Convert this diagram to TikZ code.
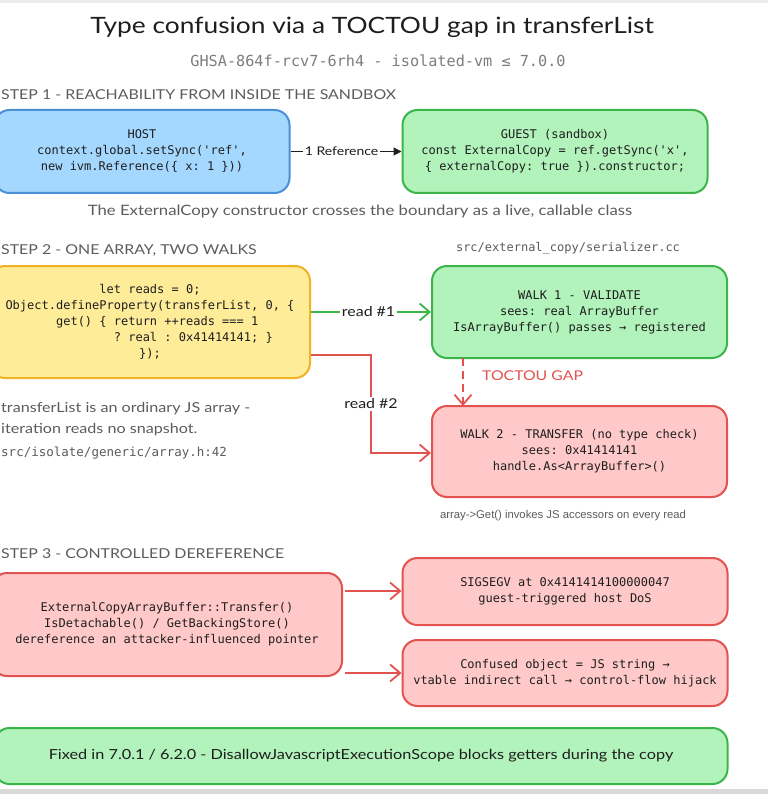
\documentclass[tikz,border=0pt]{standalone}
\usepackage{fontspec}
\setmainfont{Lato}[FakeStretch=1.17]
\setmonofont{DejaVu Sans Mono}
\newfontfamily\plainsans{Liberation Sans}
\usetikzlibrary{arrows.meta}
\definecolor{inkc}{HTML}{1E1E1E}
\definecolor{greyc}{HTML}{5C5C5C}
\definecolor{bluefill}{HTML}{A5D8FF}
\definecolor{bluedraw}{HTML}{4A90D9}
\definecolor{greenfill}{HTML}{B2F2BB}
\definecolor{greendraw}{HTML}{3BB54A}
\definecolor{yellowfill}{HTML}{FFEC99}
\definecolor{yellowdraw}{HTML}{F0B323}
\definecolor{redfill}{HTML}{FFC9C9}
\definecolor{reddraw}{HTML}{E2524F}
\newcommand{\codefont}{\ttfamily\fontsize{12}{16}\selectfont}
\newcommand{\padsp}[1]{\phantom{\ttfamily #1}}
\tikzset{
  boxbase/.style={rounded corners=15pt, line width=2pt, align=center, text=inkc, font=\codefont, inner sep=0pt},
  bluebox/.style={boxbase, fill=bluefill, draw=bluedraw},
  greenbox/.style={boxbase, fill=greenfill, draw=greendraw},
  yellowbox/.style={boxbase, fill=yellowfill, draw=yellowdraw},
  redbox/.style={boxbase, fill=redfill, draw=reddraw},
  steplabel/.style={anchor=west, text=greyc, font=\fontsize{13.6}{16}\selectfont, inner sep=0pt},
  caption/.style={text=greyc, font=\fontsize{14.3}{18}\selectfont, inner sep=0pt},
  monocap/.style={text=greyc, font=\ttfamily\fontsize{12}{15}\selectfont, inner sep=0pt},
  arrlabel/.style={fill=white, text=inkc, font=\fontsize{13.6}{15}\selectfont, inner sep=2pt},
  barb/.style={-{Straight Barb[length=10pt,width=17pt,line width=1.8pt]}, line width=1.8pt},
}
\begin{document}
\begin{tikzpicture}[x=1pt,y=-1pt]
\useasboundingbox (0,0) rectangle (768,794);
\fill[white] (0,0) rectangle (768,794);
\fill[black!8] (0,0) rectangle (768,3);
\fill[black!15] (0,789) rectangle (768,794);

% title
\node[text=inkc, font=\fontsize{22.5}{26}\selectfont, inner sep=0pt] (title) at (372,27) {Type confusion via a TOCTOU gap in transferList};
\node[text=greyc!80, font=\ttfamily\fontsize{15.2}{17}\selectfont, inner sep=0pt] (subtitle) at (378,61) {GHSA-864f-rcv7-6rh4 - isolated-vm ≤ 7.0.0};

% step 1
\node[steplabel] (s1) at (1,95) {STEP 1 - REACHABILITY FROM INSIDE THE SANDBOX};
\node[bluebox, minimum width=295pt, minimum height=83pt] (host) at (142,151.5)
  {HOST\\context.global.setSync('ref',\\new ivm.Reference(\{ x: 1 \}))};
\node[greenbox, minimum width=305pt, minimum height=83pt] (guest) at (555,151.5)
  {GUEST (sandbox)\\const ExternalCopy = ref.getSync('x',\\\{ externalCopy: true \}).constructor;};
\draw[-{Triangle[length=8pt,width=8pt]}, line width=1.2pt, inkc] (host.east) -- node[arrlabel, pos=0.46, font=\fontsize{12}{14}\selectfont] (reflabel) {1 Reference} (guest.west);
\node[caption] (cap1) at (360,211) {The ExternalCopy constructor crosses the boundary as a live, callable class};

% step 2
\node[steplabel] (s2) at (1,250) {STEP 2 - ONE ARRAY, TWO WALKS};
\node[monocap] (ser) at (568,248) {src/external\_copy/serializer.cc};
\node[yellowbox, minimum width=320pt, minimum height=112pt] (js) at (150,322)
  {let reads = 0;\\Object.defineProperty(transferList, 0, \{\\\padsp{xx}get() \{ return ++reads === 1\\\padsp{xxxxxxxxxxxx}? real : 0x41414141; \}\\\});};
\node[greenbox, minimum width=295pt, minimum height=92pt] (walk1) at (579.5,312)
  {WALK 1 - VALIDATE\\sees: real ArrayBuffer\\IsArrayBuffer() passes → registered};
\node[redbox, minimum width=295pt, minimum height=91pt] (walk2) at (579.5,451.5)
  {WALK 2 - TRANSFER (no type check)\\sees: 0x41414141\\handle.As<ArrayBuffer>()};
\draw[barb, greendraw] (js.east |- walk1.west) -- node[arrlabel, pos=0.48] (r1) {read \#1} (walk1.west);
\coordinate (bend1) at (371,355);
\coordinate (bend2) at (371,453);
\draw[barb, reddraw] (js.east |- bend1) -- (bend1) -- node[arrlabel, pos=0.5] (r2) {read \#2} (bend2) -- (bend2 -| walk2.west);
\draw[barb, reddraw, dash pattern=on 8pt off 5pt] (463,358) -- (463,406);
\node[text=reddraw, font=\fontsize{13.5}{16}\selectfont, anchor=west, inner sep=0pt] (gap) at (482,376) {TOCTOU GAP};
\node[caption, anchor=west, font=\fontsize{13.8}{16}\selectfont] (cap2a) at (1,409) {transferList is an ordinary JS array -};
\node[caption, anchor=west, font=\fontsize{13.8}{16}\selectfont] (cap2b) at (1,430) {iteration reads no snapshot.};
\node[monocap, anchor=west, font=\ttfamily\fontsize{12.5}{15}\selectfont] (cap2c) at (1,453) {src/isolate/generic/array.h:42};
\node[text=greyc, font=\plainsans\fontsize{11.3}{13}\selectfont, inner sep=0pt] (cap2d) at (563,516) {array->Get() invokes JS accessors on every read};

% step 3
\node[steplabel] (s3) at (1,554) {STEP 3 - CONTROLLED DEREFERENCE};
\node[redbox, minimum width=350pt, minimum height=103pt] (deref) at (167,624.5)
  {ExternalCopyArrayBuffer::Transfer()\\IsDetachable() / GetBackingStore()\\dereference an attacker-influenced pointer};
\node[redbox, minimum width=325pt, minimum height=67pt] (segv) at (565,591.5)
  {SIGSEGV at 0x4141414100000047\\guest-triggered host DoS};
\node[redbox, minimum width=325pt, minimum height=66pt] (hijack) at (565,673)
  {Confused object = JS string →\\vtable indirect call → control-flow hijack};
\coordinate (d1) at (345,591);
\coordinate (d2) at (345,673);
\draw[barb, reddraw] (d1) -- (segv.west |- d1);
\draw[barb, reddraw] (d2) -- (hijack.west |- d2);

% fix
\node[greenbox, minimum width=733pt, minimum height=56pt, font=\fontsize{13.9}{18}\selectfont] (fix) at (361,756)
  {Fixed in 7.0.1 / 6.2.0 - DisallowJavascriptExecutionScope blocks getters during the copy};
\end{tikzpicture}
\end{document}
